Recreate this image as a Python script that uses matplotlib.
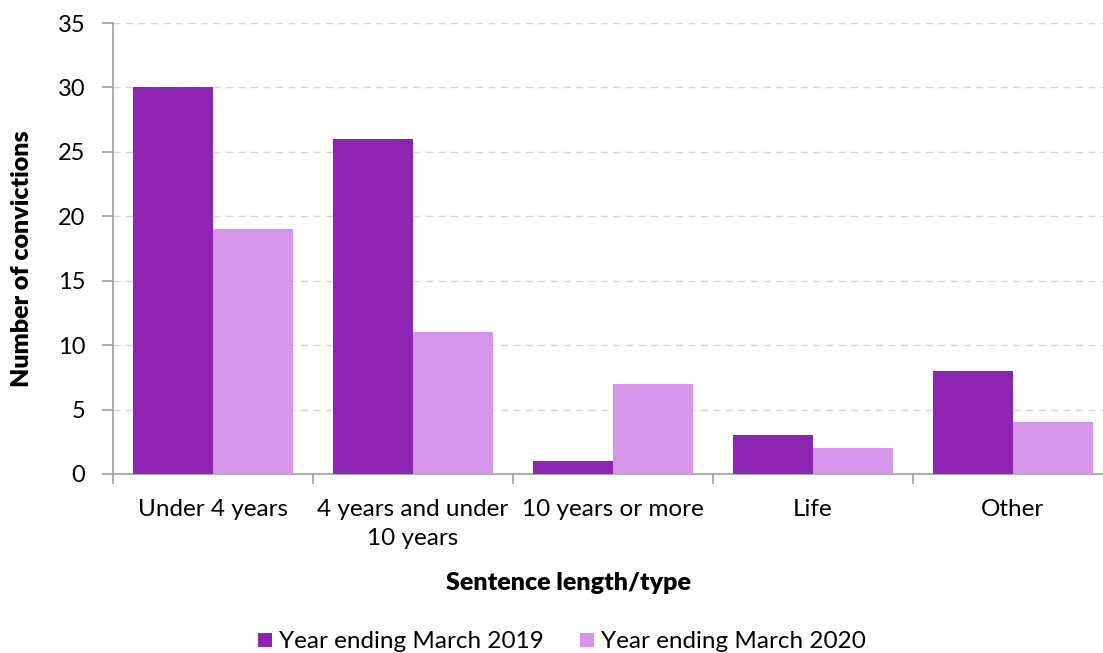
import numpy as np
import matplotlib.pyplot as plt

categories = ["Under 4 years", "4 years and under\n10 years", "10 years or more", "Life", "Other"]
series_names = ["Year ending March 2019", "Year ending March 2020"]
values_2019 = [30, 26, 1, 3, 8]
values_2020 = [19, 11, 7, 2, 4]
colors = ["#8E24B2", "#D495EA"]

plt.rcParams["font.family"] = ["Lato", "DejaVu Sans"]

W, H = 1103, 653
fig = plt.figure(figsize=(W / 100, H / 100), dpi=100)
# plot area runs a little past the right edge, as in the original
ax = fig.add_axes([113 / W, (H - 474) / H, 1000 / W, 451 / H])

x = np.arange(len(categories))
width = 0.4
ax.bar(x - width / 2, values_2019, width, color=colors[0], label=series_names[0], zorder=3)
ax.bar(x + width / 2, values_2020, width, color=colors[1], label=series_names[1], zorder=3)

ax.set_xlim(-0.5, len(categories) - 0.5)
ax.set_ylim(0, 35)
ax.set_yticks(np.arange(0, 36, 5))
ax.set_xticks(x)
ax.set_xticklabels(categories, fontsize=17.5, linespacing=1.45)
ax.set_xticks(np.arange(-0.5, len(categories), 1), minor=True)
ax.tick_params(axis="x", which="major", length=0, pad=18)
ax.tick_params(axis="x", which="minor", length=7, color="#A0A0A0", width=1.2)
ax.tick_params(axis="y", length=8, color="#A0A0A0", width=1.2, labelsize=17, pad=12)

ax.yaxis.grid(True, linestyle=(0, (5, 4)), color="#D9D9D9", linewidth=1, zorder=0)
for side in ["top", "right"]:
    ax.spines[side].set_visible(False)
for side in ["left", "bottom"]:
    ax.spines[side].set_color("#A0A0A0")
    ax.spines[side].set_linewidth(1.2)

ax.set_ylabel("Number of convictions", fontsize=18, fontweight="heavy", va="center")
ax.yaxis.set_label_coords((22 - 113) / 1000, (474 - 259) / 451)
ax.set_xlabel("Sentence length/type", fontsize=18, fontweight="heavy", va="center")
ax.xaxis.set_label_coords((569 - 113) / 1000, (474 - 583) / 451)

fig.legend(loc="center", bbox_to_anchor=(562 / W, (H - 642) / H), ncol=2, frameon=False,
           fontsize=17.5, handlelength=0.55, handleheight=0.55, handletextpad=0.3,
           columnspacing=1.5)

fig.savefig("out.png", dpi=100)
